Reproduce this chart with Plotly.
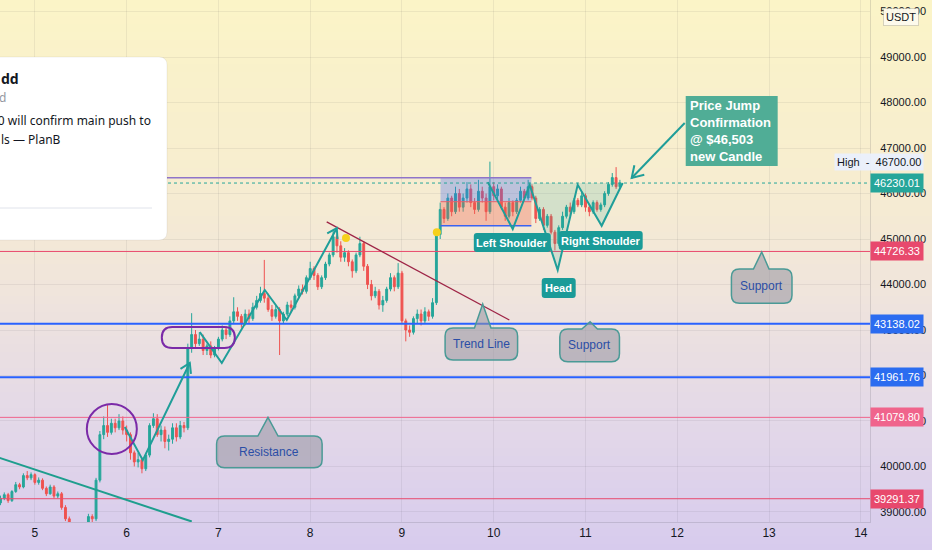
import numpy as np
import plotly.graph_objects as go

# hourly BTC/USDT candles, first one at 4 Dec 15:00 (x axis = day of December)
start_day = 4.625
open_ = [39200, 39300, 39380, 39250, 39450, 39600, 39550, 39800, 39750, 39820,
         39650, 39700, 39520, 39400, 39550, 39350, 39400, 39100, 38850, 38600,
         38500, 38450, 38550, 38600, 38900, 38850, 39700, 40700, 40900, 40750,
         40950, 40850, 41000, 40800, 40700, 40300, 40100, 40150, 39950, 40250,
         40900, 41050, 40700, 40800, 40550, 40600, 40850, 40650, 40900, 40850,
         42600, 42900, 42700, 42800, 42550, 42650, 42450, 42600, 42800, 43000,
         42900, 43200, 43400, 43300, 43150, 43350, 43250, 43500, 43650, 43800,
         43700, 43450, 43300, 43450, 43200, 43350, 43550, 43500, 43750, 43900,
         43850, 44150, 44350, 44200, 43950, 44150, 44450, 44650, 45050, 44850,
         44600, 44700, 44500, 44300, 44650, 44900, 44400, 44000, 43750, 43850,
         43550, 43650, 43900, 44150, 43950, 44250, 43200, 43000, 42950, 43250,
         43350, 43200, 43400, 43300, 43600, 45100, 45650, 45450, 45900, 45600,
         46000, 45700, 45900, 46100, 45800, 45650, 46050, 45900, 45600, 46150,
         45950, 46100, 45700, 45500, 45800, 45600, 45850, 46050, 45900, 46150,
         45900, 45450, 45650, 45300, 45500, 45150, 44900, 45250, 45500, 45700,
         45600, 45850, 45750, 45950, 45700, 45600, 45800, 45650, 45750, 46000,
         46200, 46350, 46150]
high = [39360, 39430, 39420, 39480, 39660, 39640, 39850, 39900, 39870, 39850,
        39760, 39740, 39560, 39600, 39590, 39450, 39440, 39150, 38900, 38650,
        38560, 38600, 38680, 38960, 38950, 39750, 40780, 41100, 41350, 41050,
        41050, 41150, 41100, 40900, 40750, 40350, 40300, 40200, 40300, 40950,
        41170, 41150, 40900, 40880, 40700, 40950, 40950, 41000, 40980, 42700,
        43370, 43000, 42950, 42900, 42700, 42750, 42650, 42850, 43100, 43080,
        43300, 43720, 43500, 43350, 43450, 43450, 43600, 43750, 43950, 44540,
        43800, 43550, 43550, 43500, 43400, 43620, 43650, 43800, 43980, 44000,
        44200, 44500, 44400, 44250, 44200, 44500, 44700, 45200, 45100, 44950,
        44800, 44750, 44550, 44700, 45050, 44950, 44450, 44100, 43950, 43900,
        43750, 43950, 44250, 44200, 44470, 44300, 43250, 43100, 43300, 43450,
        43450, 43500, 43450, 43700, 45200, 45800, 45700, 46000, 45950, 46150,
        46100, 46000, 46250, 46200, 45900, 46300, 46150, 46000, 46700, 46250,
        46200, 46150, 45800, 45900, 45850, 45900, 46150, 46100, 46300, 46200,
        45950, 45700, 45700, 45550, 45550, 45200, 45300, 45600, 45750, 45800,
        45900, 45900, 46050, 46000, 45750, 45850, 45850, 45800, 46050, 46250,
        46450, 46580, 46300]
low = [39150, 39260, 39200, 39220, 39420, 39500, 39520, 39700, 39700, 39600,
       39600, 39480, 39350, 39380, 39300, 39300, 39050, 38800, 38550, 38420,
       38400, 38400, 38500, 38560, 38780, 38800, 39650, 40600, 40650, 40700,
       40750, 40800, 40700, 40550, 40150, 40000, 39980, 39850, 39900, 40200,
       40850, 40650, 40550, 40400, 40350, 40500, 40550, 40600, 40750, 40800,
       42500, 42600, 42650, 42450, 42450, 42380, 42400, 42550, 42750, 42800,
       42850, 43150, 43200, 43050, 43100, 43150, 43200, 43450, 43600, 43600,
       43400, 43200, 43250, 42450, 43150, 43300, 43400, 43450, 43700, 43780,
       43800, 44100, 44100, 43880, 43900, 44100, 44400, 44600, 44700, 44500,
       44500, 44400, 44150, 44250, 44600, 44300, 43900, 43650, 43700, 43450,
       43400, 43600, 43850, 43850, 43900, 43150, 42750, 42850, 42900, 43150,
       43100, 43150, 43200, 43250, 43550, 45000, 45350, 45400, 45500, 45550,
       45600, 45600, 45800, 45700, 45550, 45600, 45800, 45400, 45550, 45850,
       45850, 45650, 45400, 45450, 45500, 45550, 45800, 45850, 45850, 45850,
       45350, 45400, 45200, 45250, 45100, 44750, 44850, 45200, 45450, 45500,
       45550, 45700, 45700, 45600, 45500, 45550, 45600, 45600, 45700, 45950,
       46150, 46100, 46100]
close = [39300, 39380, 39250, 39450, 39600, 39550, 39800, 39750, 39820, 39650,
         39700, 39520, 39400, 39550, 39350, 39400, 39100, 38850, 38600, 38500,
         38450, 38550, 38600, 38900, 38850, 39700, 40700, 40900, 40750, 40950,
         40850, 41000, 40800, 40700, 40300, 40100, 40150, 39950, 40250, 40900,
         41050, 40700, 40800, 40550, 40600, 40850, 40650, 40900, 40850, 42600,
         42900, 42700, 42800, 42550, 42650, 42450, 42600, 42800, 43000, 42900,
         43200, 43400, 43300, 43150, 43350, 43250, 43500, 43650, 43800, 43700,
         43450, 43300, 43450, 43200, 43350, 43550, 43500, 43750, 43900, 43850,
         44150, 44350, 44200, 43950, 44150, 44450, 44650, 45050, 44850, 44600,
         44700, 44500, 44300, 44650, 44900, 44400, 44000, 43750, 43850, 43550,
         43650, 43900, 44150, 43950, 44250, 43200, 43000, 42950, 43250, 43350,
         43200, 43400, 43300, 43600, 45100, 45650, 45450, 45900, 45600, 46000,
         45700, 45900, 46100, 45800, 45650, 46050, 45900, 45600, 46150, 45950,
         46100, 45700, 45500, 45800, 45600, 45850, 46050, 45900, 46150, 45900,
         45450, 45650, 45300, 45500, 45150, 44900, 45250, 45500, 45700, 45600,
         45850, 45750, 45950, 45700, 45600, 45800, 45650, 45750, 46000, 46200,
         46350, 46150, 46230]

resistance_levels = [44726.33, 41079.80, 39291.37]
resistance_colors = ["#e8496d", "#f0648c", "#e8496d"]
support_levels = [43138.02, 41961.76]
last_price = 46230.01
day_high = 46700.00
signal_day = [8.39, 9.38]
signal_price = [45020, 45150]
day_ticks = [5, 6, 7, 8, 9, 10, 11, 12, 13, 14]

# drawings (day, price)
zigzag_a = [(5.98, 40870), (6.176, 40140), (6.688, 42275)]
zigzag_b = [(6.797, 42955), (7.037, 42275), (7.505, 43880), (7.745, 43220), (8.29, 45240)]
hs_pattern = [(9.935, 46250), (10.207, 45220), (10.392, 46190), (10.697, 44320),
              (10.915, 46190), (11.176, 45290), (11.405, 46230)]
trend_line = [(8.18, 45375), (10.17, 43220)]
down_line = [(4.6, 40200), (6.71, 38790)]

X0, X1 = 4.62, 14.1
Y0, Y1 = 38780, 50253
PW, PH = 870, 522
DX = (X1 - X0) / PW
DY = (Y1 - Y0) / PH
TEAL = "#1f9e99"


def pxx(px):
    return px / PW


def pxy(py):
    return 1 - py / PH


def rrect(x0, x1, y0, y1, r=4):
    rx, ry = r * DX, r * DY
    return (f"M{x0+rx},{y1} L{x1-rx},{y1} Q{x1},{y1} {x1},{y1-ry} L{x1},{y0+ry} "
            f"Q{x1},{y0} {x1-rx},{y0} L{x0+rx},{y0} Q{x0},{y0} {x0},{y0+ry} "
            f"L{x0},{y1-ry} Q{x0},{y1} {x0+rx},{y1} Z")


def callout(x0, x1, y0, y1, bx0, bx1, tip, r=8):
    rx, ry = r * DX, r * DY
    return (f"M{x0+rx},{y1} L{bx0},{y1} L{tip[0]},{tip[1]} L{bx1},{y1} L{x1-rx},{y1} "
            f"Q{x1},{y1} {x1},{y1-ry} L{x1},{y0+ry} Q{x1},{y0} {x1-rx},{y0} "
            f"L{x0+rx},{y0} Q{x0},{y0} {x0},{y0+ry} L{x0},{y1-ry} Q{x0},{y1} {x0+rx},{y1} Z")


def poly(pts):
    return "M" + " L".join(f"{x},{y}" for x, y in pts)


def arrowhead(p_from, p_to, size=11):
    ang = np.arctan2((p_to[1] - p_from[1]) / DY, (p_to[0] - p_from[0]) / DX)
    pts = []
    for s in (1, -1):
        a = ang + np.pi + s * np.radians(32)
        pts.append((p_to[0] + size * np.cos(a) * DX, p_to[1] + size * np.sin(a) * DY))
    return f"M{pts[0][0]},{pts[0][1]} L{p_to[0]},{p_to[1]} L{pts[1][0]},{pts[1][1]}"


def mix(c1, c2, t):
    return tuple(int(round(a + (b - a) * t)) for a, b in zip(c1, c2))


hours = start_day + np.arange(len(close)) / 24

fig = go.Figure()

# background gradient (yellow top -> lavender bottom)
stops = [(0, (251, 244, 199)), (180, (247, 237, 208)), (300, (239, 228, 221)),
         (420, (227, 216, 232)), (560, (214, 202, 238))]
shapes = []
for k in range(0, 560, 8):
    mid = k + 4
    for (a, ca), (b, cb) in zip(stops[:-1], stops[1:]):
        if a <= mid <= b:
            col = mix(ca, cb, (mid - a) / (b - a))
            break
    shapes.append(dict(type="rect", xref="paper", yref="paper", layer="below",
                       x0=-0.01, x1=1.1, y0=pxy(k + 9), y1=pxy(k),
                       fillcolor=f"rgb{col}", line=dict(width=0)))

fig.add_trace(go.Candlestick(
    x=hours, open=open_, high=high, low=low, close=close,
    increasing=dict(line=dict(color="#26a69a", width=1), fillcolor="#26a69a"),
    decreasing=dict(line=dict(color="#ef5350", width=1), fillcolor="#ef5350"),
    whiskerwidth=0, hoverinfo="skip", showlegend=False))

# long/short position boxes
pos_x0, pos_x1 = 9.42, 10.41
shapes.append(dict(type="rect", xref="x", yref="y", x0=pos_x0, x1=pos_x1, y0=45820, y1=46345,
                   fillcolor="rgba(70,110,240,0.33)", line=dict(width=0), layer="above"))
shapes.append(dict(type="rect", xref="x", yref="y", x0=pos_x0, x1=pos_x1, y0=45290, y1=45820,
                   fillcolor="rgba(240,95,75,0.33)", line=dict(width=0), layer="above"))
shapes.append(dict(type="line", xref="x", yref="y", x0=pos_x0, x1=pos_x1, y0=45290, y1=45290,
                   line=dict(color="#3a63f0", width=1.5), layer="above"))
shapes.append(dict(type="line", xref="x", yref="y", x0=pos_x0, x1=pos_x1, y0=45820, y1=45820,
                   line=dict(color="#e8606a", width=1), layer="above"))
shapes.append(dict(type="line", xref="x", yref="y", x0=X0, x1=pos_x1, y0=46345, y1=46345,
                   line=dict(color="#8f74c9", width=1.5), layer="above"))

# horizontal levels
for lv, col in zip(resistance_levels, resistance_colors):
    shapes.append(dict(type="line", xref="paper", yref="y", x0=0, x1=1, y0=lv, y1=lv,
                       line=dict(color=col, width=1), layer="above"))
for lv in support_levels:
    shapes.append(dict(type="line", xref="paper", yref="y", x0=0, x1=1, y0=lv, y1=lv,
                       line=dict(color="#2962ff", width=2), layer="above"))
shapes.append(dict(type="line", xref="paper", yref="y", x0=0, x1=1, y0=last_price, y1=last_price,
                   line=dict(color="#26a69a", width=1, dash="dot"), layer="above"))

# trend lines and zigzags
shapes.append(dict(type="line", xref="x", yref="y", x0=trend_line[0][0], y0=trend_line[0][1],
                   x1=trend_line[1][0], y1=trend_line[1][1],
                   line=dict(color="#9e2446", width=1.3), layer="above"))
shapes.append(dict(type="line", xref="x", yref="y", x0=down_line[0][0], y0=down_line[0][1],
                   x1=down_line[1][0], y1=down_line[1][1],
                   line=dict(color="#1e9e8e", width=2), layer="above"))
for zz in (zigzag_a, zigzag_b):
    shapes.append(dict(type="path", xref="x", yref="y", path=poly(zz),
                       line=dict(color=TEAL, width=2), layer="above"))
    shapes.append(dict(type="path", xref="x", yref="y", path=arrowhead(zz[-2], zz[-1]),
                       line=dict(color=TEAL, width=2), layer="above"))
shapes.append(dict(type="path", xref="x", yref="y",
                   path=poly([(10.392, last_price)] + hs_pattern[2:]) + " Z",
                   fillcolor="rgba(38,166,154,0.16)", line=dict(width=0), layer="above"))
shapes.append(dict(type="path", xref="x", yref="y", path=poly(hs_pattern),
                   line=dict(color=TEAL, width=2), layer="above"))

# purple marks
shapes.append(dict(type="circle", xref="x", yref="y", x0=5.566, x1=6.111, y0=40275, y1=41374,
                   line=dict(color="#7b2aa8", width=2), layer="above"))
sx0, sx1, sy0, sy1 = 6.383, 7.179, 42604, 43066
srx, sym = 10.5 * DX, (sy0 + sy1) / 2
shapes.append(dict(type="path", xref="x", yref="y", layer="above",
                   path=(f"M{sx0+srx},{sy1} L{sx1-srx},{sy1} Q{sx1},{sy1} {sx1},{sym} "
                         f"Q{sx1},{sy0} {sx1-srx},{sy0} L{sx0+srx},{sy0} Q{sx0},{sy0} {sx0},{sym} "
                         f"Q{sx0},{sy1} {sx0+srx},{sy1} Z"),
                   line=dict(color="#7b2aa8", width=2)))

fig.add_trace(go.Scatter(x=signal_day, y=signal_price, mode="markers",
                         marker=dict(color="#f6d01c", size=8), hoverinfo="skip",
                         showlegend=False))

annotations = []

# grey callouts
callouts = [
    ("Resistance", 6.98, 8.13, 39970, 40670, 7.43, 7.65, (7.54, 41080)),
    ("Trend Line", 9.47, 10.26, 42340, 43045, 9.79, 9.97, (9.88, 43570)),
    ("Support", 10.72, 11.37, 42300, 43020, 10.96, 11.13, (11.05, 43180)),
    ("Support", 12.59, 13.25, 43590, 44340, 12.83, 13.0, (12.92, 44715)),
]
for txt, x0, x1, y0, y1, bx0, bx1, tip in callouts:
    shapes.append(dict(type="path", xref="x", yref="y", layer="above",
                       path=callout(x0, x1, y0, y1, bx0, bx1, tip),
                       fillcolor="rgba(150,148,160,0.55)",
                       line=dict(color="#4a9a96", width=1.5)))
    annotations.append(dict(x=(x0 + x1) / 2, y=(y0 + y1) / 2, xref="x", yref="y", text=txt,
                            showarrow=False,
                            font=dict(family="Liberation Sans, Arial", size=12, color="#2b4ea6")))

# teal pattern labels
labels = [
    ("Left Shoulder", 9.783, 10.622, 44714, 45132),
    ("Right Shoulder", 10.708, 11.623, 44758, 45176),
    ("Head", 10.523, 10.893, 43703, 44143),
]
for txt, x0, x1, y0, y1 in labels:
    shapes.append(dict(type="path", xref="x", yref="y", layer="above",
                       path=rrect(x0, x1, y0, y1, 3), fillcolor="#1a9b98",
                       line=dict(width=0)))
    annotations.append(dict(x=(x0 + x1) / 2, y=(y0 + y1) / 2, xref="x", yref="y", text=txt,
                            showarrow=False,
                            font=dict(family="Liberation Sans, Arial", size=11, color="white",
                                      weight="bold")))

# price jump note + arrow
shapes.append(dict(type="rect", xref="x", yref="y", x0=12.092, x1=13.094, y0=46604, y1=48143,
                   fillcolor="#50ad96", line=dict(width=0), layer="above"))
annotations.append(dict(x=12.118, y=47374, xref="x", yref="y", xanchor="left", align="left",
                        text="Price Jump<br>Confirmation<br>@ $46,503<br>new Candle",
                        showarrow=False,
                        font=dict(family="Liberation Sans, Arial", size=13, color="white",
                                  weight="bold")))
jump_arrow = [(12.081, 47549), (11.503, 46341)]
shapes.append(dict(type="path", xref="x", yref="y", path=poly(jump_arrow),
                   line=dict(color=TEAL, width=2), layer="above"))
shapes.append(dict(type="path", xref="x", yref="y", path=arrowhead(*jump_arrow, size=13),
                   line=dict(color=TEAL, width=2), layer="above"))

# idea card in the top-left corner
cx0, cx1, cy0, cy1 = pxx(-20), pxx(167), pxy(240), pxy(57)
crx, cry = 8 / PW, 8 / PH
card = (f"M{cx0},{cy1} L{cx1-crx},{cy1} Q{cx1},{cy1} {cx1},{cy1-cry} L{cx1},{cy0+cry} "
        f"Q{cx1},{cy0} {cx1-crx},{cy0} L{cx0},{cy0} Z")
shapes.append(dict(type="path", xref="paper", yref="paper", path=card, fillcolor="white",
                   line=dict(color="rgba(0,0,0,0.06)", width=1), layer="above"))
shapes.append(dict(type="line", xref="paper", yref="paper", x0=0, x1=pxx(152),
                   y0=pxy(208), y1=pxy(208), line=dict(color="#e0e3eb", width=1), layer="above"))
card_font = "Noto Sans, Liberation Sans, Arial"
annotations += [
    dict(x=pxx(-1), y=pxy(78), text="dd", xanchor="left",
         font=dict(family=card_font, size=14, color="#131722", weight="bold")),
    dict(x=pxx(-3), y=pxy(97), text="d", xanchor="left",
         font=dict(family=card_font, size=12, color="#9598a1")),
    dict(x=pxx(153), y=pxy(121), text="00 will confirm main push to", xanchor="right",
         font=dict(family=card_font, size=12, color="#131722")),
    dict(x=pxx(-1), y=pxy(139), text="ls \u2014 PlanB", xanchor="left",
         font=dict(family=card_font, size=12, color="#131722")),
]
for a in annotations[-4:]:
    a.update(xref="paper", yref="paper", yanchor="middle", showarrow=False)

# price-scale labels
axis_font = "Liberation Sans, Arial"
for lv, col in ([(last_price, "#26a69a")] + list(zip(resistance_levels, resistance_colors))
                + [(lv, "#2b6cf0") for lv in support_levels]):
    annotations.append(dict(x=1, y=lv, xref="paper", yref="y", xanchor="left", yanchor="middle",
                            text=f"{lv:.2f}", showarrow=False, bgcolor=col, borderpad=3,
                            font=dict(family=axis_font, size=11, color="white")))
annotations.append(dict(x=pxx(924), y=day_high, xref="paper", yref="y", xanchor="right",
                        yanchor="middle",
                        text=f"High\u00a0\u00a0-\u00a0\u00a0{day_high:.2f}", showarrow=False,
                        bgcolor="rgba(234,239,252,0.95)", borderpad=2,
                        font=dict(family=axis_font, size=11, color="#131722")))
annotations.append(dict(x=pxx(901), y=pxy(16.5), xref="paper", yref="paper", text="USDT",
                        xanchor="center", yanchor="middle",
                        showarrow=False, bgcolor="rgba(253,250,236,0.97)",
                        bordercolor="rgba(42,46,57,0.18)", borderwidth=1, borderpad=2,
                        font=dict(family=axis_font, size=11, color="#131722")))

fig.update_layout(
    width=932, height=550,
    margin=dict(l=0, r=62, t=0, b=28),
    paper_bgcolor="rgb(240,230,220)",
    plot_bgcolor="rgba(0,0,0,0)",
    shapes=shapes,
    annotations=annotations,
    showlegend=False,
    xaxis=dict(range=[X0, X1], tickvals=day_ticks, showgrid=True,
               gridcolor="rgba(42,46,57,0.07)", zeroline=False, showline=True,
               linecolor="rgba(42,46,57,0.14)", rangeslider=dict(visible=False),
               tickfont=dict(family=axis_font, size=12, color="#131722")),
    yaxis=dict(range=[Y0, Y1], side="right", dtick=1000, tick0=0, tickformat=".2f",
               showgrid=True, gridcolor="rgba(42,46,57,0.07)", zeroline=False,
               showline=True, linecolor="rgba(42,46,57,0.14)", ticklabelstandoff=7,
               tickfont=dict(family=axis_font, size=11, color="#131722")),
)

fig.write_html("out.html", config={"displayModeBar": False},
               post_script="document.body.style.margin='0';document.body.style.overflow='hidden';")
